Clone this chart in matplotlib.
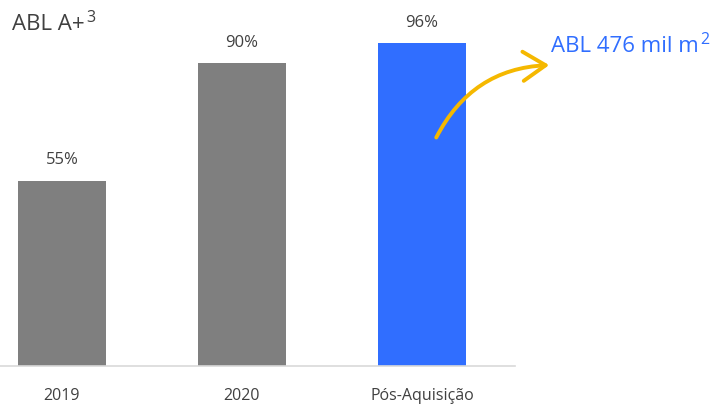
import matplotlib.pyplot as plt
from matplotlib.patches import FancyArrowPatch
from matplotlib.transforms import offset_copy

plt.rcParams['font.family'] = ['Open Sans', 'DejaVu Sans']

# dados do gráfico
categorias = ["2019", "2020", "Pós-Aquisição"]
valores = [55, 90, 96]
rotulos = ["55%", "90%", "96%"]
cores = ["#7F7F7F", "#7F7F7F", "#306EFF"]

cinza_texto = "#404040"
azul = "#306EFF"
amarelo = "#F5B800"

fig = plt.figure(figsize=(7.22, 4.04), dpi=100)
ax = fig.add_axes([0.0, 0.094, 515 / 722, 0.906])

x = range(len(categorias))
barras = ax.bar(x, valores, width=0.49, color=cores, zorder=2)

for barra, rotulo in zip(barras, rotulos):
    ax.annotate(rotulo, (barra.get_x() + barra.get_width() / 2, barra.get_height()),
                xytext=(0, 9), textcoords="offset points", ha="center", va="bottom",
                fontsize=12, color=cinza_texto)

ax.set_xlim(-0.344, 2.517)
ax.set_ylim(0, 108.8)
ax.set_xticks(list(x))
ax.set_xticklabels(categorias, fontsize=11.5, color=cinza_texto)
ax.tick_params(axis="x", length=0, pad=16)
ax.set_yticks([])
for lado in ["top", "right", "left"]:
    ax.spines[lado].set_visible(False)
ax.spines["bottom"].set_color("#D9D9D9")
ax.spines["bottom"].set_linewidth(1.2)
ax.patch.set_alpha(0)


def texto_com_expoente(xf, yf, base, expoente, tamanho, cor):
    # texto principal seguido de um expoente menor e elevado
    t = fig.text(xf, yf, base, fontsize=tamanho, color=cor, ha="left", va="baseline")
    fig.canvas.draw()
    largura = t.get_window_extent().width * 72 / fig.dpi
    trans = offset_copy(fig.transFigure, fig=fig, x=largura + 1, y=tamanho * 0.38,
                        units="points")
    fig.text(xf, yf, expoente, fontsize=tamanho * 0.72, color=cor, ha="left",
             va="baseline", transform=trans)


# título e destaque
texto_com_expoente(12 / 722, 1 - 30 / 404, "ABL A+", "3", 16, cinza_texto)
texto_com_expoente(551 / 722, 1 - 52 / 404, "ABL 476 mil m", "2", 16, azul)

# seta curva amarela
seta = FancyArrowPatch((435 / 722, 1 - 140 / 404), (552 / 722, 1 - 65 / 404),
                       transform=fig.transFigure, connectionstyle="arc3,rad=-0.3",
                       arrowstyle="->,head_length=6.5,head_width=4.2", color=amarelo,
                       linewidth=2.8, mutation_scale=2.5, capstyle="round",
                       joinstyle="round")
fig.patches.append(seta)

fig.savefig("out.png", dpi=100)
